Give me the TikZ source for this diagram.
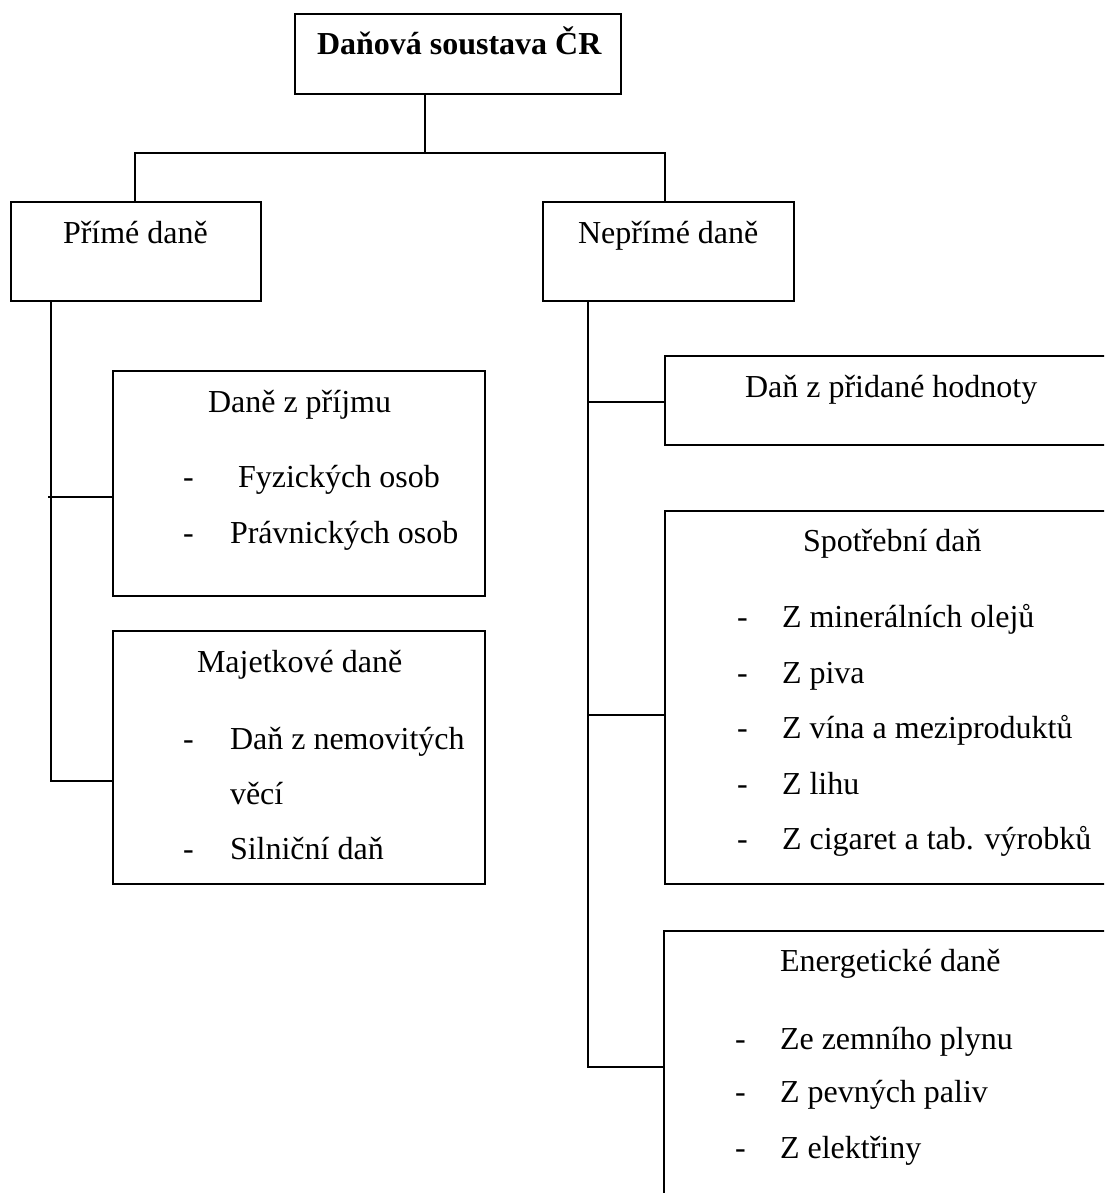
\documentclass[tikz,border=0pt]{standalone}
\usepackage{fontspec}
\setmainfont{Liberation Serif}
\usetikzlibrary{fit}
\begin{document}
\begin{tikzpicture}[x=0.5pt,y=-0.5pt,
  box/.style={draw, line width=0.9pt, inner sep=0pt, outer sep=0pt},
  conn/.style={line width=0.9pt},
  lbl/.style={anchor=base west, inner sep=0pt, outer sep=0pt, font=\fontsize{16}{19}\selectfont}]
\path[use as bounding box] (0,0) rectangle (1104,1193);
\clip (0,0) rectangle (1104,1193);
\fill[white] (0,0) rectangle (1104,1193);

% boxes
\node[box, fit={(295,14) (621,94)}] (top) {};
\node[box, fit={(11,202) (261,301)}] (prime) {};
\node[box, fit={(543,202) (794,301)}] (neprime) {};
\node[box, fit={(113,371) (485,596)}] (prijem) {};
\node[box, fit={(113,631) (485,884)}] (majet) {};
\node[box, fit={(665,356) (1180,445)}] (dph) {};
\node[box, fit={(665,511) (1180,884)}] (spotr) {};
\node[box, fit={(664,931) (1180,1260)}] (energ) {};

% junction coordinates
\coordinate (j0) at (425,153);
\coordinate (barL) at (135,153);
\coordinate (barR) at (665,153);
\coordinate (lt) at (51,781);
\coordinate (c1) at (48,497);
\coordinate (rt) at (588,1067);
\coordinate (c2) at (588,402);
\coordinate (c3) at (588,715);

% connectors
\draw[conn] (top.south -| j0) -- (j0);
\draw[conn] (barL |- prime.north) -- (barL) -- (barR) -- (barR |- neprime.north);
\draw[conn] (lt |- prime.south) -- (lt) -- (lt -| majet.west);
\draw[conn] (c1) -- (c1 -| prijem.west);
\draw[conn] (rt |- neprime.south) -- (rt) -- (rt -| energ.west);
\draw[conn] (c2) -- (c2 -| dph.west);
\draw[conn] (c3) -- (c3 -| spotr.west);

% texts
\node[lbl, font=\fontsize{16}{19}\selectfont\bfseries] (t0) at (317,55) {Daňová soustava ČR};
\node[lbl] (t1) at (63,243) {Přímé daně};
\node[lbl] (t2) at (578,243) {Nepřímé daně};

\node[lbl] (t3) at (208,412) {Daně z příjmu};
\node[lbl] (d31) at (183,487) {-};
\node[lbl] (t31) at (238,487) {Fyzických osob};
\node[lbl] (d32) at (183,543) {-};
\node[lbl] (t32) at (230,543) {Právnických osob};

\node[lbl] (t4) at (197,672) {Majetkové daně};
\node[lbl] (d41) at (183,749) {-};
\node[lbl] (t41) at (230,749) {Daň z nemovitých};
\node[lbl] (t41b) at (230,804) {věcí};
\node[lbl] (d42) at (183,859) {-};
\node[lbl] (t42) at (230,859) {Silniční daň};

\node[lbl] (t5) at (745,397) {Daň z přidané hodnoty};

\node[lbl] (t6) at (803,551) {Spotřební daň};
\node[lbl] (d61) at (737,627) {-};
\node[lbl] (t61) at (782,627) {Z minerálních olejů};
\node[lbl] (d62) at (737,683) {-};
\node[lbl] (t62) at (782,683) {Z piva};
\node[lbl] (d63) at (737,738) {-};
\node[lbl] (t63) at (782,738) {Z vína a meziproduktů};
\node[lbl] (d64) at (737,794) {-};
\node[lbl] (t64) at (782,794) {Z lihu};
\node[lbl] (d65) at (737,849) {-};
\node[lbl] (t65) at (782,849) {Z cigaret a tab. výrobků};

\node[lbl] (t7) at (780,971) {Energetické daně};
\node[lbl] (d71) at (735,1049) {-};
\node[lbl] (t71) at (780,1049) {Ze zemního plynu};
\node[lbl] (d72) at (735,1102) {-};
\node[lbl] (t72) at (780,1102) {Z pevných paliv};
\node[lbl] (d73) at (735,1158) {-};
\node[lbl] (t73) at (780,1158) {Z elektřiny};
\end{tikzpicture}
\end{document}
